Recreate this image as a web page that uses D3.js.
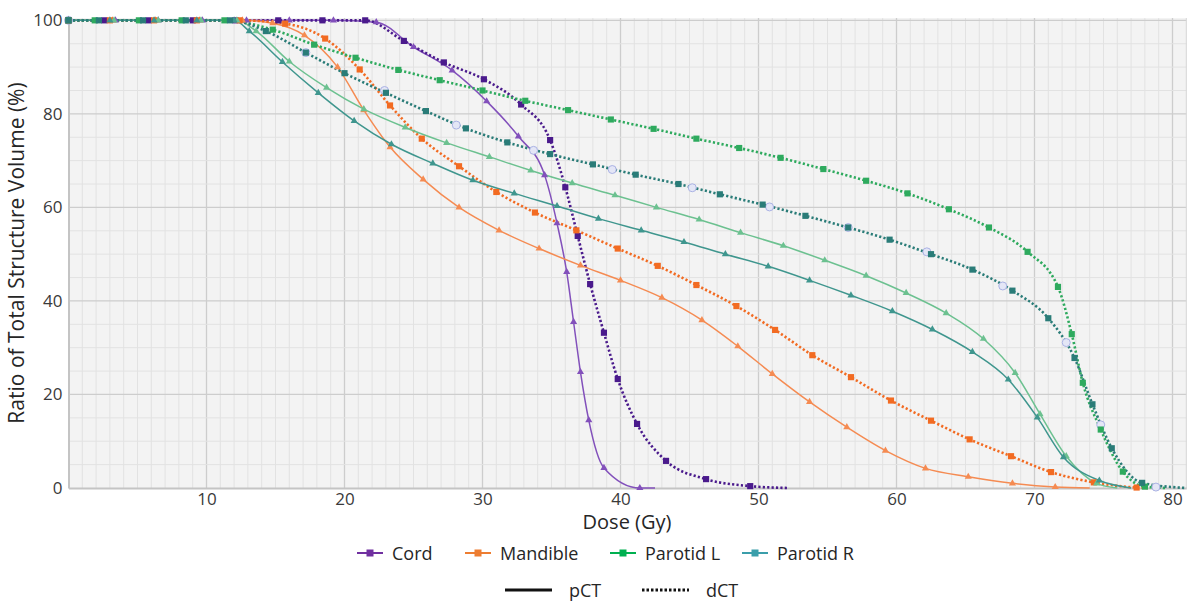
<!DOCTYPE html>
<html>
<head>
<meta charset="utf-8">
<script src="https://cdn.jsdelivr.net/npm/d3@7"></script>
<style>
  body { margin: 0; background: #fff; }
  svg { font-family: "Open Sans", "Noto Sans", sans-serif; }
</style>
</head>
<body>
<svg id="chart" width="1195" height="601"></svg>
<script>
// dose (Gy) / volume (%)
var cordP = [[0,100],[3.4,100],[6.5,100],[9.7,100],[12.9,100],[16,100],[19.2,100],[22.3,99.6],[25.0,94.3],[27.8,89.3],[30.3,82.7],[32.6,75.2],[34.5,66.9],[35.4,56.6],[36.1,46.2],[36.6,35.5],[37.1,24.8],[37.7,14.5],[38.8,4.3],[41.4,0]];
var cordD = [[0,100],[2.6,100],[5.8,100],[9.0,100],[12.1,100],[15.2,100],[18.4,100],[21.5,100],[24.3,95.6],[27.2,91.0],[30.1,87.4],[32.8,82.0],[34.9,74.4],[36.0,64.3],[36.9,53.9],[37.8,43.6],[38.8,33.2],[39.8,23.3],[41.2,13.7],[43.3,5.8],[46.2,1.9],[49.4,0.4]];
var mandP = [[0,100],[3.2,100],[6.3,100],[9.5,100],[12.6,100],[14.8,99.4],[17.1,96.8],[19.5,90.0],[21.4,80.8],[23.3,72.9],[25.7,66.0],[28.3,60.0],[31.2,55.1],[34.1,51.2],[37.1,47.6],[40.0,44.4],[43.0,40.7],[45.9,35.9],[48.5,30.3],[51.0,24.4],[53.7,18.4],[56.4,13.0],[59.2,8.0],[62.1,4.2],[65.2,2.4],[68.4,1.0],[71.5,0.2]];
var mandD = [[0,100],[3.0,100],[6.2,100],[9.3,100],[12.4,100],[15.7,99.3],[18.6,96.1],[21.1,89.5],[23.3,81.8],[25.6,74.7],[28.3,68.8],[31.0,63.3],[33.8,58.9],[36.8,55.1],[39.8,51.2],[42.7,47.5],[45.5,43.4],[48.4,38.9],[51.2,33.8],[53.9,28.4],[56.7,23.7],[59.6,18.7],[62.5,14.4],[65.3,10.4],[68.3,6.8],[71.2,3.4],[74.3,1.2],[77.4,0.1]];
var parLP = [[0,100],[3.3,100],[6.5,100],[9.6,100],[12.2,100],[13.6,97.7],[16.0,91.2],[18.7,85.6],[21.4,81.0],[24.4,77.1],[27.4,73.8],[30.5,70.8],[33.5,67.9],[36.5,65.2],[39.6,62.6],[42.6,60.0],[45.7,57.4],[48.7,54.6],[51.8,51.8],[54.8,48.7],[57.8,45.4],[60.7,41.7],[63.6,37.4],[66.3,31.9],[68.6,24.6],[70.4,15.8],[72.3,6.8],[74.5,1.0]];
var parLD = [[0,100],[1.9,100],[5.1,100],[8.2,100],[11.3,100],[14.8,98.0],[17.8,94.8],[20.8,92.0],[23.9,89.4],[26.9,87.2],[30.0,85.0],[33.1,82.8],[36.2,80.8],[39.3,78.8],[42.4,76.8],[45.5,74.7],[48.6,72.7],[51.6,70.6],[54.7,68.2],[57.8,65.7],[60.8,63.0],[63.8,59.6],[66.7,55.7],[69.5,50.5],[71.7,43.0],[72.7,32.9],[73.5,22.5],[74.8,12.5],[76.4,3.5],[78.0,0.3]];
var parRP = [[0,100],[3.0,100],[6.2,100],[9.3,100],[12.0,100],[13.1,97.7],[15.5,91.1],[18.1,84.5],[20.7,78.5],[23.4,73.5],[26.4,69.4],[29.3,65.8],[32.3,63.0],[35.4,60.3],[38.4,57.6],[41.5,55.1],[44.6,52.6],[47.6,50.0],[50.7,47.4],[53.7,44.4],[56.7,41.2],[59.7,37.8],[62.6,33.9],[65.5,29.1],[68.1,23.2],[70.2,15.1],[72.1,6.6],[74.7,1.6]];
var parRD = [[0,100],[2.2,100],[5.4,100],[8.5,100],[11.7,100],[14.3,97.7],[17.2,93.1],[20.0,88.7],[23.0,84.5],[25.9,80.6],[28.8,76.9],[31.8,73.9],[34.9,71.4],[38.0,69.2],[41.1,67.0],[44.2,65.0],[47.2,62.8],[50.3,60.6],[53.4,58.2],[56.5,55.7],[59.5,53.1],[62.5,50.0],[65.5,46.7],[68.4,42.2],[71.0,36.3],[72.9,27.8],[74.2,17.9],[75.6,8.5],[77.8,1.1]];
// faint open circles sitting on the Parotid R dCT curve
var extraPts = [[0,100],[17.2,93.1],[22.9,85.0],[28.1,77.6],[33.7,72.2],[39.4,68.1],[45.2,64.2],[50.8,60.1],[56.5,55.7],[62.2,50.5],[67.7,43.2],[72.3,31.1],[74.8,13.5],[78.8,0.2]];
// where each line runs on along 0 % after its last point
var lineEnds = [42.5, 52.2, 74.0, 78.2, 76.0, 79.5, 77.0, 81];

var structures = ["Cord", "Mandible", "Parotid L", "Parotid R"];
var legendColors = ["#7030a0", "#ed7d31", "#00b050", "#3a9eaa"];
var xTicks = [10, 20, 30, 40, 50, 60, 70, 80];
var yTicks = [0, 20, 40, 60, 80, 100];

var series = [
  {data: cordP, color: "#8250bb", dotted: false},
  {data: cordD, color: "#4a1a8c", dotted: true},
  {data: mandP, color: "#f58b52", dotted: false},
  {data: mandD, color: "#f26b22", dotted: true},
  {data: parLP, color: "#6cc190", dotted: false},
  {data: parLD, color: "#2eaa5e", dotted: true},
  {data: parRP, color: "#3f968e", dotted: false},
  {data: parRD, color: "#2a7c78", dotted: true}
];

var svg = d3.select("#chart");

var x = d3.scaleLinear().domain([0, 81]).range([68.5, 1186.3]);
var y = d3.scaleLinear().domain([0, 100.5]).range([488, 18]);

// plot background
svg.append("rect")
  .attr("x", x(0)).attr("y", y(100.5))
  .attr("width", x(81) - x(0)).attr("height", y(0) - y(100.5))
  .attr("fill", "#f3f3f3");

// minor grid
svg.append("g").selectAll("line")
  .data(d3.range(1, 81))
  .enter().append("line")
  .attr("x1", d => x(d)).attr("x2", d => x(d))
  .attr("y1", y(0)).attr("y2", y(100.5))
  .attr("stroke", d => d % 10 === 0 ? "#cdcdcd" : "#e2e2e2")
  .attr("stroke-width", d => d % 10 === 0 ? 1.3 : 1);

svg.append("g").selectAll("line")
  .data(d3.range(5, 101, 5))
  .enter().append("line")
  .attr("x1", x(0)).attr("x2", x(81))
  .attr("y1", d => y(d)).attr("y2", d => y(d))
  .attr("stroke", d => d % 20 === 0 ? "#cdcdcd" : "#e2e2e2")
  .attr("stroke-width", d => d % 20 === 0 ? 1.3 : 1);

// right border
svg.append("line")
  .attr("x1", x(81)).attr("x2", x(81)).attr("y1", y(0)).attr("y2", y(100.5))
  .attr("stroke", "#d5d5d5");

// axes
var xAxis = svg.append("g")
  .attr("transform", "translate(0," + y(0) + ")")
  .call(d3.axisBottom(x).tickValues(xTicks).tickSize(0).tickPadding(5));
var yAxis = svg.append("g")
  .attr("transform", "translate(" + x(0) + ",0)")
  .call(d3.axisLeft(y).tickValues(yTicks).tickSize(0).tickPadding(6));
[xAxis, yAxis].forEach(function(a) {
  a.select(".domain").attr("stroke", "#c4c4c4").attr("stroke-width", 2);
  a.selectAll("text").attr("font-size", 17).attr("fill", "#3a3a3a")
    .attr("font-family", "'Open Sans', sans-serif");
});

svg.append("text")
  .attr("x", 627).attr("y", 529)
  .attr("text-anchor", "middle")
  .attr("font-size", 20).attr("fill", "#262626")
  .text("Dose (Gy)");

svg.append("text")
  .attr("transform", "translate(24,253) rotate(-90)")
  .attr("text-anchor", "middle")
  .attr("font-size", 21).attr("fill", "#262626")
  .text("Ratio of Total Structure Volume (%)");

// lines
var line = d3.line()
  .x(d => x(d[0]))
  .y(d => y(d[1]))
  .curve(d3.curveMonotoneX);

var plot = svg.append("g");

series.forEach(function(s, i) {
  var pts = s.data.slice();
  var last = pts[pts.length - 1];
  if (lineEnds[i] > last[0]) pts.push([lineEnds[i], 0]);
  plot.append("path")
    .attr("d", line(pts))
    .attr("fill", "none")
    .attr("stroke", s.color)
    .attr("stroke-width", s.dotted ? 2.6 : 1.5)
    .attr("stroke-dasharray", s.dotted ? "2.2,2.2" : null);
});

plot.selectAll(".extra")
  .data(extraPts)
  .enter().append("circle")
  .attr("class", "extra")
  .attr("cx", d => x(d[0])).attr("cy", d => y(d[1]))
  .attr("r", 4)
  .attr("fill", "#e4e6f6")
  .attr("stroke", "#aab2e4")
  .attr("stroke-width", 1);

var tri = d3.symbol().type(d3.symbolTriangle).size(22);
var sq = d3.symbol().type(d3.symbolSquare).size(38);

series.forEach(function(s) {
  plot.append("g").selectAll("path")
    .data(s.data)
    .enter().append("path")
    .attr("transform", d => "translate(" + x(d[0]) + "," + y(d[1]) + ")")
    .attr("d", s.dotted ? sq : tri)
    .attr("fill", s.color);
});

// legend
var legX = [357, 465, 610, 742];
var leg = svg.append("g");
structures.forEach(function(name, i) {
  var g = leg.append("g").attr("transform", "translate(" + legX[i] + ",553)");
  g.append("line").attr("x1", 0).attr("x2", 26).attr("y1", 0).attr("y2", 0)
    .attr("stroke", legendColors[i]).attr("stroke-width", 2);
  g.append("rect").attr("x", 9.5).attr("y", -3.5).attr("width", 7).attr("height", 7)
    .attr("fill", legendColors[i]);
  g.append("text").attr("x", 35).attr("y", 6.5)
    .attr("font-size", 18).attr("fill", "#262626").text(name);
});

var styleLeg = [{label: "pCT", x: 505, dash: null}, {label: "dCT", x: 642, dash: "2.5,2"}];
styleLeg.forEach(function(s) {
  var g = leg.append("g").attr("transform", "translate(" + s.x + ",590)");
  g.append("line").attr("x1", 0).attr("x2", 47).attr("y1", 0).attr("y2", 0)
    .attr("stroke", "#111").attr("stroke-width", 3)
    .attr("stroke-dasharray", s.dash);
  g.append("text").attr("x", 64).attr("y", 6.5)
    .attr("font-size", 18).attr("fill", "#262626").text(s.label);
});
</script>
</body>
</html>
